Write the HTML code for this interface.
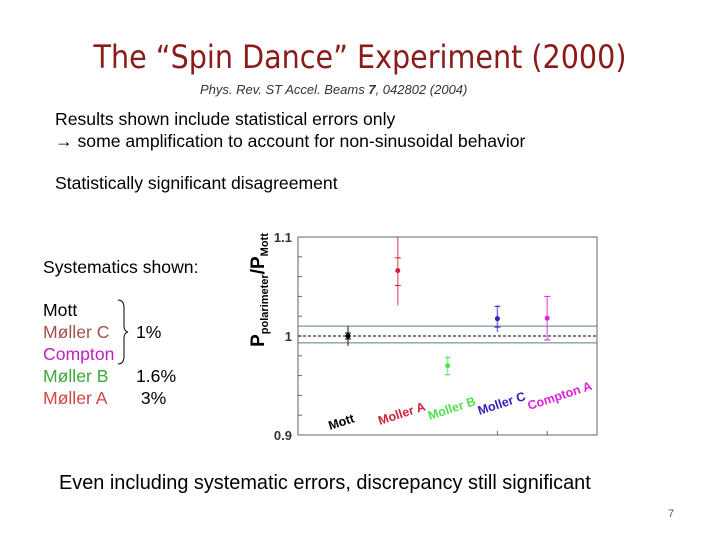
<!DOCTYPE html>
<html><head><meta charset="utf-8"><style>
body{margin:0;width:720px;height:540px;background:#fff;position:relative;overflow:hidden;font-family:"Liberation Sans",Arial,sans-serif}
.t{position:absolute;white-space:nowrap}
</style></head><body>
<div class="t" style="left:0;width:720px;text-align:center;top:39px;font-size:31.8px;color:#8b1a1a;font-family:'DejaVu Sans Condensed','Liberation Sans',sans-serif">The “Spin Dance” Experiment (2000)</div>
<div class="t" style="left:200px;top:82px;font-size:13px;font-style:italic;color:#333">Phys. Rev. ST Accel. Beams <b>7</b>, 042802 (2004)</div>
<div class="t" style="left:55px;top:108px;font-size:17.6px;line-height:22px">Results shown include statistical errors only<br>→ some amplification to account for non-sinusoidal behavior</div>
<div class="t" style="left:55px;top:173px;font-size:17.6px">Statistically significant disagreement</div>
<div class="t" style="left:43px;top:257px;font-size:17.6px">Systematics shown:</div>
<div class="t" style="left:43px;top:299px;font-size:17.6px;line-height:22px"><span style="color:#000">Mott</span><br><span style="color:#a0524e">Møller C</span><br><span style="color:#c020c0">Compton</span><br><span style="color:#3aa83a">Møller B</span><br><span style="color:#d04848">Møller A</span></div>
<svg class="t" style="left:112px;top:298px" width="20" height="70"><path d="M6,2 Q12,2 12,10 L12,28 Q12,33 16,34 Q12,35 12,40 L12,58 Q12,66 6,66" fill="none" stroke="#000" stroke-width="1"/></svg>
<div class="t" style="left:136px;top:321px;font-size:17.6px;line-height:22px">1%<br><br>1.6%<br>&nbsp;3%</div>
<div class="t" style="left:59px;top:472px;font-size:19.9px">Even including systematic errors, discrepancy still significant</div>
<div class="t" style="left:668px;top:508px;font-size:11px;color:#555">7</div>
<svg id="chart" class="t" style="left:0;top:0" width="720" height="540"></svg>
<script>
const categories=["Mott","Moller A","Moller B","Moller C","Compton A"];
const colors=["#000","#d0203a","#50e050","#3020c0","#e020e0"];
const values=[1.000,1.066,0.970,1.0175,1.018];
const statLo=[0.997,1.051,0.961,1.009,0.996];
const statHi=[1.003,1.079,0.978,1.030,1.040];
const totLo=[0.990,1.031,0.960,1.004,0.996];
const totHi=[1.010,1.100,0.980,1.031,1.040];
const bandLo=0.993, bandHi=1.010;
const yTicks=[0.9,1.0,1.1];
const yTickLabels=["0.9","1","1.1"];
const NS="http://www.w3.org/2000/svg", svg=document.getElementById('chart');
const X0=298,X1=597,Y0=435,Y1=237;
const y=v=>Y0-(v-0.9)/0.2*(Y0-Y1);
const x=i=>348+i*49.8;
function mk(t,a){const e=document.createElementNS(NS,t);for(const k in a)e.setAttribute(k,a[k]);svg.appendChild(e);return e;}
const f=mk('rect',{x:X0,y:Y1,width:X1-X0,height:Y0-Y1,fill:'none',stroke:'#666'});


for(let v=0.92;v<1.1;v+=0.02){const t=mk('line',{x1:X0,x2:X0+4,y1:y(v),y2:y(v),stroke:'#666'});

}
yTicks.forEach((v,i)=>{const t=mk('text',{x:X0-6,y:y(v)+5,'text-anchor':'end','font-size':13,'font-weight':'bold',fill:'#333'});t.textContent=yTickLabels[i];

});
[bandLo,bandHi].forEach(v=>{const l=mk('line',{x1:X0,x2:X1,y1:y(v),y2:y(v),stroke:'#5a7a90'});

});
const d=mk('line',{x1:X0,x2:X1,y1:y(1),y2:y(1),stroke:'#000','stroke-dasharray':'3,2'});


[3,4].forEach(i=>{const t=mk('line',{x1:x(i),x2:x(i),y1:Y0,y2:Y0-4,stroke:'#666'});

});
categories.forEach((c,i)=>{
 const e=mk('line',{x1:x(i),x2:x(i),y1:y(totLo[i]),y2:y(totHi[i]),stroke:colors[i],'stroke-opacity':0.6,'stroke-width':1.5});
 
 
 [statLo[i],statHi[i]].forEach(v=>{const t=mk('line',{x1:x(i)-3,x2:x(i)+3,y1:y(v),y2:y(v),stroke:colors[i]});
 
 });
 const p=mk('circle',{cx:x(i),cy:y(values[i]),r:2.5,fill:colors[i]});
 
 
 const lx=x(i)-18, ly=430-i*5;
 const l=mk('text',{x:lx,y:ly,'font-size':12.5,'font-weight':'bold',fill:colors[i],transform:`rotate(-18 ${lx} ${ly})`});
 l.textContent=c;
 
 
});
const yt=mk('text',{x:264,y:290,'font-size':19,'font-weight':'bold','text-anchor':'middle',transform:'rotate(-90 264 290)'});
yt.innerHTML='P<tspan font-size="11" dy="4">polarimeter</tspan><tspan dy="-4">/P</tspan><tspan font-size="11" dy="4">Mott</tspan>';


</script>
</body></html>
